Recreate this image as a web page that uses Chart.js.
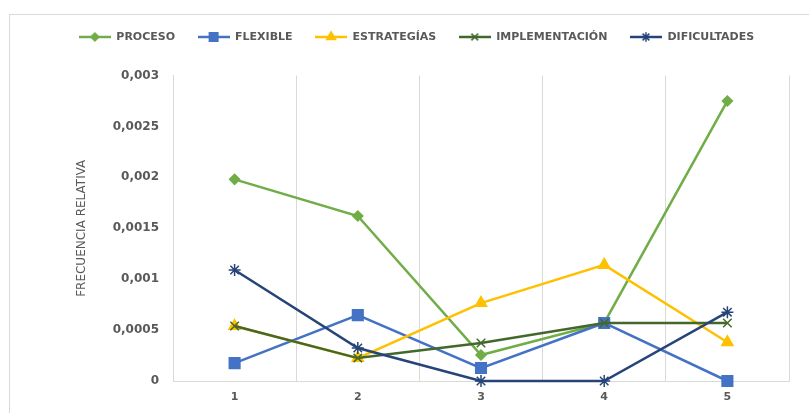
<!DOCTYPE html>
<html>
<head>
<meta charset="utf-8">
<script src="https://cdn.jsdelivr.net/npm/chart.js@4.4.1/dist/chart.umd.min.js"></script>
<style>
  html, body { margin: 0; padding: 0; background: #ffffff; }
  #wrap { width: 809px; height: 413px; position: relative; }
</style>
</head>
<body>
<div id="wrap"><canvas id="c" width="809" height="413"></canvas></div>
<script>
const categories = ['1', '2', '3', '4', '5'];
const seriesNames = ['PROCESO', 'FLEXIBLE', 'ESTRATEGÍAS', 'IMPLEMENTACIÓN', 'DIFICULTADES'];
const proceso = [0.00198, 0.00162, 0.000255, 0.00057, 0.00275];
const flexible = [0.000176, 0.000647, 0.000127, 0.00057, 0];
const estrategias = [0.00054, 0.000225, 0.000765, 0.00114, 0.00038];
const implementacion = [0.00054, 0.000225, 0.000373, 0.00057, 0.00057];
const dificultades = [0.00109, 0.000324, 0, 0, 0.000676];
const yTickLabels = ['0', '0,0005', '0,001', '0,0015', '0,002', '0,0025', '0,003'];
const yTitle = 'FRECUENCIA RELATIVA';

const colors = ['#70AD47', '#4472C4', '#FFC000', '#43682B', '#264478'];
const styles = ['rectRot', 'rect', 'triangle', 'crossRot', 'star'];
const radii = [5, 7.5, 6.5, 6, 6];
const values = [proceso, flexible, estrategias, implementacion, dificultades];

function legendImage(i) {
  const cv = document.createElement('canvas');
  cv.width = 32; cv.height = 14;
  const ctx = cv.getContext('2d');
  ctx.strokeStyle = colors[i];
  ctx.lineWidth = 2.5;
  ctx.beginPath(); ctx.moveTo(0, 7); ctx.lineTo(32, 7); ctx.stroke();
  ctx.fillStyle = colors[i];
  ctx.strokeStyle = colors[i];
  ctx.lineWidth = 1.5;
  Chart.helpers.drawPoint(ctx, {pointStyle: styles[i], radius: radii[i] * 0.8, rotation: 0, borderWidth: 1.5}, 16, 7);
  if (styles[i] !== 'crossRot' && styles[i] !== 'star') ctx.fill();
  return cv;
}
const legendImages = seriesNames.map((_, i) => legendImage(i));

const frame = {
  id: 'frame',
  beforeLayout(chart) {
    const lg = chart.legend;
    if (lg && !lg._patched) {
      const orig = lg.fit;
      lg.fit = function () { orig.call(this); this.height += 23; };
      lg._patched = true;
    }
  },
  beforeDraw(chart) {
    const ctx = chart.ctx;
    ctx.save();
    ctx.fillStyle = '#ffffff';
    ctx.fillRect(0, 0, chart.width, chart.height);
    ctx.strokeStyle = '#d9d9d9';
    ctx.lineWidth = 1;
    ctx.strokeRect(9.5, 14.5, chart.width + 10, chart.height + 10);
    ctx.restore();
  }
};

const datasets = seriesNames.map((name, i) => ({
  label: name,
  data: values[i],
  borderColor: colors[i],
  backgroundColor: colors[i],
  borderWidth: 2.5,
  pointStyle: styles[i],
  pointRadius: radii[i],
  pointHoverRadius: radii[i],
  pointBorderWidth: 1.5,
  pointBorderColor: colors[i],
  pointBackgroundColor: colors[i],
  tension: 0,
  clip: false,
  order: seriesNames.length - i
}));

new Chart(document.getElementById('c'), {
  type: 'line',
  data: { labels: categories, datasets },
  options: {
    responsive: false,
    animation: false,
    devicePixelRatio: 1,
    layout: { padding: { top: 9, right: 20, left: 44, bottom: 0 } },
    plugins: {
      tooltip: { enabled: false },
      legend: {
        position: 'top',
        labels: {
          usePointStyle: true,
          pointStyleWidth: 32,
          padding: 22.5,
          color: '#595959',
          font: { family: 'DejaVu Sans', size: 11, weight: 'bold' },
          sort: (a, b) => a.datasetIndex - b.datasetIndex,
          generateLabels(chart) {
            const items = Chart.defaults.plugins.legend.labels.generateLabels(chart);
            items.forEach(it => { it.pointStyle = legendImages[it.datasetIndex]; });
            return items;
          }
        }
      }
    },
    scales: {
      x: {
        type: 'category',
        offset: true,
        grid: { display: true, offset: true, color: '#d9d9d9', lineWidth: 1, drawTicks: false },
        border: { display: true, color: '#d9d9d9', width: 1 },
        ticks: { color: '#595959', padding: 10, font: { family: 'DejaVu Sans', size: 11, weight: 'bold' } },
        afterFit(s) { s.height = 32; }
      },
      y: {
        min: 0,
        max: 0.003,
        grid: { display: false, drawTicks: false },
        border: { display: true, color: '#d9d9d9', width: 1 },
        ticks: {
          stepSize: 0.0005,
          padding: 14,
          color: '#595959',
          font: { family: 'DejaVu Sans', size: 12, weight: 'bold' },
          callback: (v, idx) => yTickLabels[idx]
        },
        title: {
          display: true,
          text: yTitle,
          color: '#595959',
          font: { family: 'DejaVu Sans', size: 12, weight: 'normal' },
          padding: { top: 31, bottom: 0 }
        },
        afterFit(s) { s.width = 129; }
      }
    }
  },
  plugins: [frame]
});
</script>
</body>
</html>
